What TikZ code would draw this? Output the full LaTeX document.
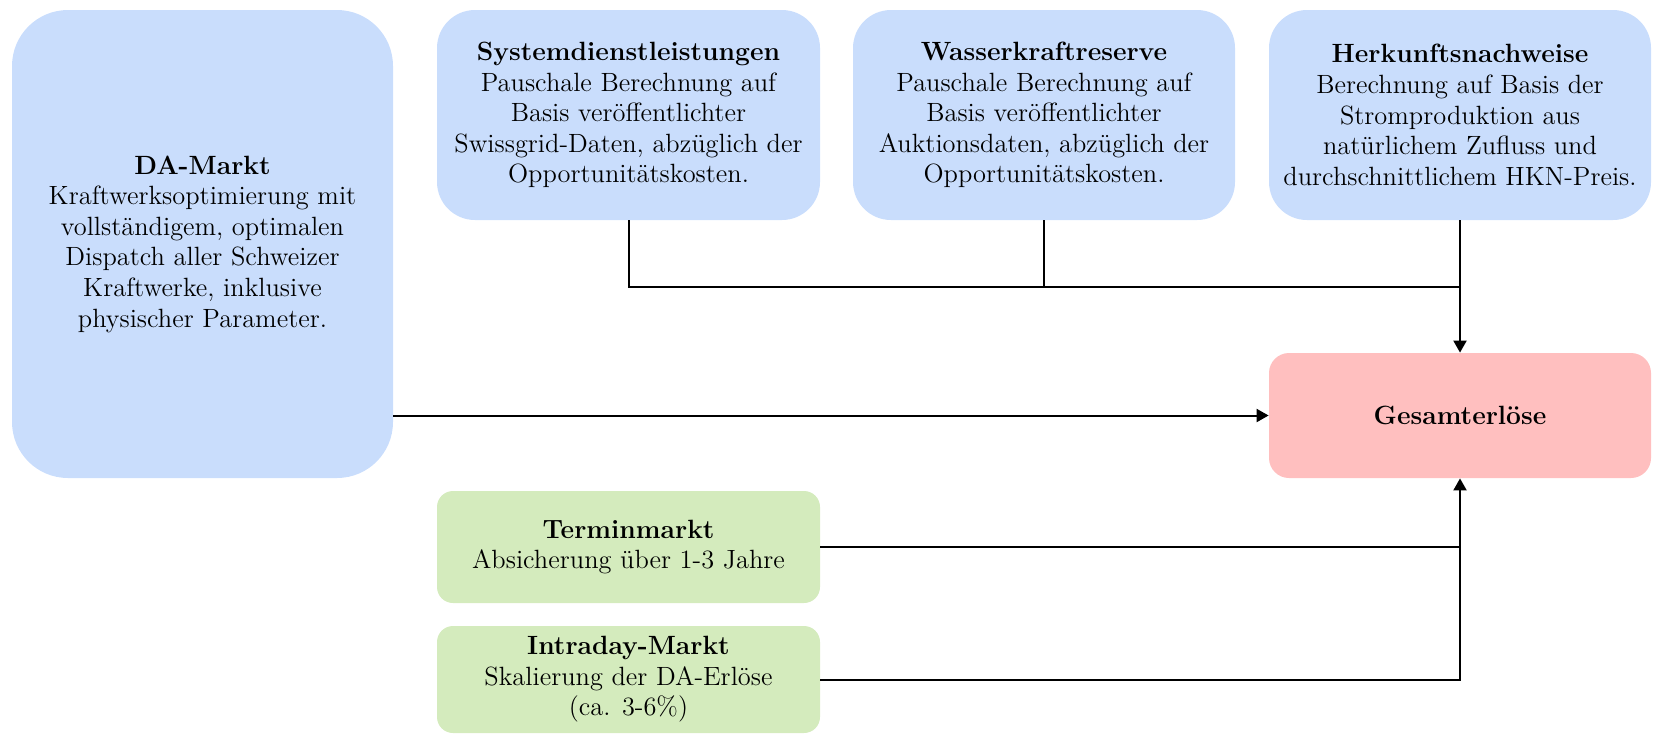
\documentclass[tikz,border=0pt]{standalone}
\usetikzlibrary{arrows.meta}
\definecolor{bluebox}{HTML}{C9DDFC}
\definecolor{greenbox}{HTML}{D4EBBD}
\definecolor{redbox}{HTML}{FFBFBF}
\begin{document}
\begin{tikzpicture}[x=0.5pt,y=-0.5pt,
  box/.style={rounded corners=#1, inner sep=0pt, align=center,
    font=\fontsize{13.2}{15.3}\selectfont},
  bluebox/.style={box=#1, fill=bluebox},
  conn/.style={line width=1pt, draw=black},
  arr/.style={conn, -{Triangle[length=6pt,width=6.5pt]}}]
\useasboundingbox (0,0) rectangle (1658,735);

\node[bluebox=28pt, minimum width=190.5pt, minimum height=234pt] (da) at (202.5,244)
  {\textbf{DA-Markt}\\Kraftwerksoptimierung mit\\vollständigem, optimalen\\Dispatch aller Schweizer\\Kraftwerke, inklusive\\physischer Parameter.};

\node[bluebox=19pt, minimum width=191.5pt, minimum height=105pt] (sys) at (628.5,115)
  {\textbf{Systemdienstleistungen}\\Pauschale Berechnung auf\\Basis veröffentlichter\\Swissgrid-Daten, abzüglich der\\Opportunitätskosten.};

\node[bluebox=19pt, minimum width=191pt, minimum height=105pt] (wass) at (1044,115)
  {\textbf{Wasserkraftreserve}\\Pauschale Berechnung auf\\Basis veröffentlichter\\Auktionsdaten, abzüglich der\\Opportunitätskosten.};

\node[bluebox=19pt, minimum width=191pt, minimum height=105pt] (herk) at (1460,115)
  {\textbf{Herkunftsnachweise}\\Berechnung auf Basis der\\Stromproduktion aus\\natürlichem Zufluss und\\durchschnittlichem HKN-Preis.};

\node[box=10pt, fill=redbox, minimum width=191pt, minimum height=62.5pt] (ges) at (1460,415.5)
  {\textbf{Gesamterlöse}};

\node[box=8pt, fill=greenbox, minimum width=191.5pt, minimum height=56pt] (term) at (628.5,547)
  {\textbf{Terminmarkt}\\Absicherung über 1-3 Jahre};

\node[box=8pt, fill=greenbox, minimum width=191.5pt, minimum height=53.5pt] (intra) at (628.5,679.5)
  {\textbf{Intraday-Markt}\\Skalierung der DA-Erlöse\\(ca. 3-6\%)};

\coordinate (bus) at (1460,287);
\draw[conn] (sys.south) |- (bus);
\draw[conn] (wass.south) -- (wass.south |- bus);
\draw[arr] (herk.south) -- (ges.north);
\draw[arr] (da.east |- ges.west) -- (ges.west);
\draw[conn] (term.east) -- (term.east -| ges.south);
\draw[arr] (intra.east) -| (ges.south);
\end{tikzpicture}
\end{document}
